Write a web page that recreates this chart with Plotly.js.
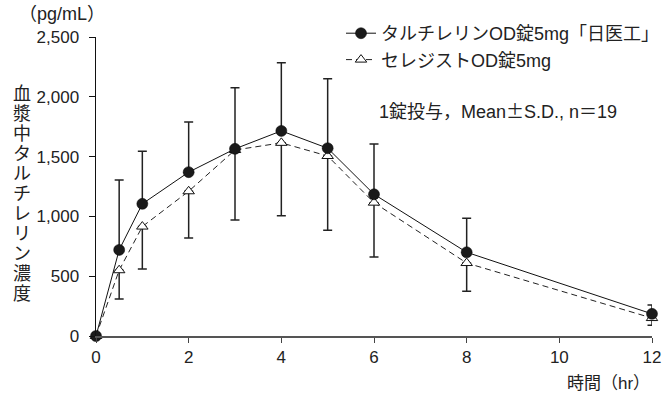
<!DOCTYPE html>
<html>
<head>
<meta charset="utf-8">
<script src="https://cdn.plot.ly/plotly-3.0.1.min.js"></script>
<style>html,body{margin:0;padding:0;background:#fff;}#chart{width:670px;height:396px;}</style>
</head>
<body>
<div id="chart"></div>
<script>
const timeHr = [0, 0.5, 1, 2, 3, 4, 5, 6, 8, 12];
const tartMean = [0, 720, 1105, 1370, 1565, 1715, 1570, 1185, 700, 185];
const tartSD = [0, 585, 440, 420, 510, 570, 580, 420, 285, 75];
const celeMean = [0, 550, 915, 1210, 1555, 1615, 1505, 1115, 610, 150];
const celeSD = [0, 240, 355, 390, 585, 610, 620, 455, 235, 60];
const xTicks = [0, 2, 4, 6, 8, 10, 12];
const yTicks = [0, 500, 1000, 1500, 2000, 2500];
const seriesNames = ['タルチレリンOD錠5mg「日医工」', 'セレジストOD錠5mg'];
const yTitle = '血漿中タルチレリン濃度';
const unitLabel = '（pg/mL）';
const noteText = '1錠投与，Mean<span style="font-family:Noto Sans CJK JP">±</span>S.D., n＝19';
const xTitle = '時間（hr）';

const FONT = 'Liberation Sans, Arial, Noto Sans CJK JP, sans-serif';
const zeros = timeHr.map(() => 0);

const traces = [
  {
    x: timeHr, y: celeMean, name: seriesNames[1], type: 'scatter', mode: 'lines+markers',
    line: {color: '#222', width: 1, dash: '6px,4px'},
    marker: {symbol: 'triangle-up', size: 10, color: '#fff', line: {color: '#111', width: 1}},
    error_y: {type: 'data', symmetric: false, array: zeros, arrayminus: celeSD, color: '#222', thickness: 1.5, width: 4.5},
    cliponaxis: false, legendrank: 2
  },
  {
    x: timeHr, y: tartMean, name: seriesNames[0], type: 'scatter', mode: 'lines+markers',
    line: {color: '#111', width: 1},
    marker: {symbol: 'circle', size: 11, color: '#1a1a1a', line: {color: '#000', width: 0.5}},
    error_y: {type: 'data', symmetric: false, array: tartSD, arrayminus: zeros, color: '#222', thickness: 1.5, width: 4.5},
    cliponaxis: false, legendrank: 1
  }
];

const L = 96, R = 18, T = 37, B = 60, W = 670, H = 396;
const plotH = H - T - B, plotW = W - L - R;
const py = p => (H - B - p) / plotH;
const px = p => (p - L) / plotW;

const annotations = [];
Array.from(yTitle).forEach((ch, i) => {
  annotations.push({text: ch, xref: 'paper', yref: 'paper', x: px(22), y: py(94 + 20 * i),
    xanchor: 'center', yanchor: 'middle', showarrow: false, font: {family: FONT, size: 18, color: '#222'}});
});
annotations.push({text: unitLabel, xref: 'paper', yref: 'paper', x: px(62), y: py(14),
  xanchor: 'center', yanchor: 'middle', showarrow: false, font: {family: FONT, size: 18, color: '#222'}});
annotations.push({text: noteText, xref: 'paper', yref: 'paper', x: px(377), y: py(110),
  xanchor: 'left', yanchor: 'middle', showarrow: false, font: {family: FONT, size: 18, color: '#222'}});
annotations.push({text: xTitle, xref: 'paper', yref: 'paper', x: px(652), y: py(383),
  xanchor: 'right', yanchor: 'middle', showarrow: false, font: {family: FONT, size: 17, color: '#222'}});

const layout = {
  width: W, height: H,
  margin: {l: L, r: R, t: T, b: B, autoexpand: false},
  paper_bgcolor: '#fff', plot_bgcolor: '#fff',
  font: {family: FONT, size: 17, color: '#222'},
  showlegend: true,
  legend: {x: px(341), y: py(15), xanchor: 'left', yanchor: 'top', bgcolor: 'rgba(0,0,0,0)',
    font: {family: FONT, size: 18, color: '#222'}, traceorder: 'normal', itemwidth: 30, tracegroupgap: 0},
  xaxis: {range: [0, 12], tickvals: xTicks, ticktext: xTicks.map(String), showgrid: false, zeroline: false,
    showline: true, linecolor: '#555', linewidth: 1.5, ticks: 'outside', ticklen: 5, tickcolor: '#444',
    tickfont: {size: 17}, fixedrange: true, automargin: false},
  yaxis: {range: [0, 2500], tickvals: yTicks, ticktext: yTicks.map(v => v.toLocaleString('en-US')),
    showgrid: false, zeroline: false, showline: true, linecolor: '#111', linewidth: 1.5,
    ticks: 'outside', ticklen: 6, tickcolor: '#111', tickfont: {size: 17}, ticklabelstandoff: 6, fixedrange: true, automargin: false},
  annotations: annotations
};

Plotly.newPlot('chart', traces, layout, {displayModeBar: false, staticPlot: true});
</script>
</body>
</html>
